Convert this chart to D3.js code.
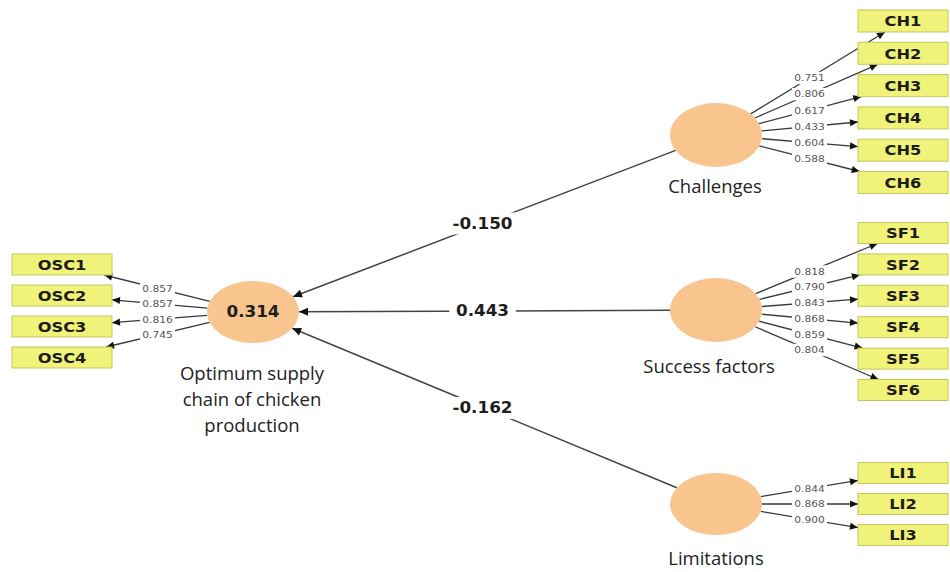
<!DOCTYPE html>
<html>
<head>
<meta charset="utf-8">
<script src="https://cdn.jsdelivr.net/npm/d3@7"></script>
<style>
html,body{margin:0;padding:0;background:#fff;}
svg{display:block;}
</style>
</head>
<body>
<svg id="chart" width="950" height="572"></svg>
<script>
// ---------------- DATA ----------------
const constructs = ["Optimum supply chain of chicken production", "Challenges", "Success factors", "Limitations"];
const constructLabelLines = [["Optimum supply", "chain of chicken", "production"], ["Challenges"], ["Success factors"], ["Limitations"]];
const rSquared = [0.314, null, null, null];
const pathSources = ["Challenges", "Success factors", "Limitations"];
const pathTarget = "Optimum supply chain of chicken production";
const pathCoefficients = [-0.150, 0.443, -0.162];

const oscItems = ["OSC1", "OSC2", "OSC3", "OSC4"];
const oscLoadings = [0.857, 0.857, 0.816, 0.745];
const chItems = ["CH1", "CH2", "CH3", "CH4", "CH5", "CH6"];
const chLoadings = [0.751, 0.806, 0.617, 0.433, 0.604, 0.588];
const sfItems = ["SF1", "SF2", "SF3", "SF4", "SF5", "SF6"];
const sfLoadings = [0.818, 0.790, 0.843, 0.868, 0.859, 0.804];
const liItems = ["LI1", "LI2", "LI3"];
const liLoadings = [0.844, 0.868, 0.900];

// ---------------- LAYOUT ----------------
const svg = d3.select("#chart");

const ELL_FILL = "#f8c58f";
const BOX_FILL = "#f0f27a";
const BOX_STROKE = "#c4c85c";
const SX = 1.12; // horizontal text stretch

const xConstruct = d3.scalePoint().domain(["left", "right"]).range([253, 716]);
const yRight = d3.scaleOrdinal().domain(["Challenges", "Success factors", "Limitations"]).range([135, 310, 504]);
const constructPos = {
  [constructs[0]]: {x: xConstruct("left"), y: 312, rx: 46, ry: 31, labelY: [380, 406, 432], labelX: 252},
  [constructs[1]]: {x: xConstruct("right"), y: yRight("Challenges"), rx: 46, ry: 32, labelY: [193], labelX: 715},
  [constructs[2]]: {x: xConstruct("right"), y: yRight("Success factors"), rx: 46, ry: 32, labelY: [373], labelX: 709},
  [constructs[3]]: {x: xConstruct("right"), y: yRight("Limitations"), rx: 46, ry: 31, labelY: [565], labelX: 716}
};

const blocks = [
  {construct: constructs[0], items: oscItems, loads: oscLoadings, x0: 12, w: 100, h: 21,
   y: d3.scaleLinear().domain([0, oscItems.length - 1]).range([264.5, 357.5])},
  {construct: constructs[1], items: chItems, loads: chLoadings, x0: 858, w: 90, h: 22,
   y: d3.scaleLinear().domain([0, chItems.length - 1]).range([21, 182.5])},
  {construct: constructs[2], items: sfItems, loads: sfLoadings, x0: 858, w: 90, h: 21,
   y: d3.scaleLinear().domain([0, sfItems.length - 1]).range([233, 390])},
  {construct: constructs[3], items: liItems, loads: liLoadings, x0: 858, w: 90, h: 21,
   y: d3.scaleLinear().domain([0, liItems.length - 1]).range([473, 535])}
];

const defs = svg.append("defs");
defs.append("marker").attr("id", "arrBig")
  .attr("viewBox", "0 -5 10 10").attr("refX", 10).attr("refY", 0)
  .attr("markerUnits", "userSpaceOnUse").attr("markerWidth", 11).attr("markerHeight", 9)
  .attr("orient", "auto")
  .append("path").attr("d", "M0,-4.5L10,0L0,4.5Z").attr("fill", "#111");
defs.append("marker").attr("id", "arrSmall")
  .attr("viewBox", "0 -5 10 10").attr("refX", 10).attr("refY", 0)
  .attr("markerUnits", "userSpaceOnUse").attr("markerWidth", 10).attr("markerHeight", 8)
  .attr("orient", "auto")
  .append("path").attr("d", "M0,-4.5L10,0L0,4.5Z").attr("fill", "#111");

function ellipseEdge(c, tx, ty) {
  const dx = tx - c.x, dy = ty - c.y;
  const t = 1 / Math.sqrt((dx / c.rx) ** 2 + (dy / c.ry) ** 2);
  return [c.x + dx * t, c.y + dy * t];
}
function rectEdge(cx, cy, hw, hh, fx, fy) {
  const dx = cx - fx, dy = cy - fy;
  const t = Math.min(dx === 0 ? Infinity : hw / Math.abs(dx), dy === 0 ? Infinity : hh / Math.abs(dy));
  return [cx - dx * t, cy - dy * t];
}

function labelWithBg(parent, x, y, text, opts) {
  const g = parent.append("g").attr("transform", `translate(${x},${y}) scale(${opts.sx || 1},1)`);
  const rect = g.append("rect").attr("fill", "#fff");
  const t = g.append("text")
    .attr("text-anchor", "middle")
    .attr("dominant-baseline", "central")
    .attr("font-family", opts.family || "DejaVu Sans")
    .attr("font-size", opts.size)
    .attr("font-weight", opts.weight || "normal")
    .attr("fill", opts.color || "#222")
    .text(text);
  const bb = t.node().getBBox();
  const px = opts.padX || 2, py = opts.padY || 1;
  rect.attr("x", bb.x - px).attr("y", bb.y - py).attr("width", bb.width + 2 * px).attr("height", bb.height + 2 * py);
  return g;
}

const linkLayer = svg.append("g");
const labelLayer = svg.append("g");
const nodeLayer = svg.append("g");

pathSources.forEach((src, i) => {
  const s = constructPos[src], t = constructPos[pathTarget];
  const p0 = ellipseEdge(s, t.x, t.y);
  const p1 = ellipseEdge(t, s.x, s.y);
  linkLayer.append("line")
    .attr("x1", p0[0]).attr("y1", p0[1]).attr("x2", p1[0]).attr("y2", p1[1])
    .attr("stroke", "#444").attr("stroke-width", 1.5)
    .attr("marker-end", "url(#arrBig)");
  const mx = (s.x + t.x) / 2, my = (s.y + t.y) / 2;
  labelWithBg(labelLayer, mx - 2, my, d3.format(".3f")(pathCoefficients[i]).replace("−", "-"),
    {size: 15, weight: "bold", sx: SX, color: "#1e1e1e", padX: 6, padY: 2});
});

blocks.forEach(b => {
  const c = constructPos[b.construct];
  b.items.forEach((item, i) => {
    const cx = b.x0 + b.w / 2, cy = b.y(i);
    const p0 = ellipseEdge(c, cx, cy);
    const p1 = rectEdge(cx, cy, b.w / 2, b.h / 2, c.x, c.y);
    linkLayer.append("line")
      .attr("x1", p0[0]).attr("y1", p0[1]).attr("x2", p1[0]).attr("y2", p1[1])
      .attr("stroke", "#3a3a3a").attr("stroke-width", 1.3)
      .attr("marker-end", "url(#arrSmall)");
    const lx = c.x + (cx - c.x) * 0.5, ly = c.y + (cy - c.y) * 0.5;
    labelWithBg(labelLayer, lx, ly, d3.format(".3f")(b.loads[i]),
      {size: 9.5, sx: 1.12, color: "#555", padX: 2, padY: 0});
    nodeLayer.append("rect")
      .attr("x", b.x0).attr("y", cy - b.h / 2).attr("width", b.w).attr("height", b.h)
      .attr("fill", BOX_FILL).attr("stroke", BOX_STROKE).attr("stroke-width", 1);
    nodeLayer.append("text")
      .attr("transform", `translate(${cx},${cy + 0.5}) scale(${SX},1)`)
      .attr("text-anchor", "middle").attr("dominant-baseline", "central")
      .attr("font-family", "DejaVu Sans").attr("font-weight", "bold").attr("font-size", 14.5)
      .attr("fill", "#1c1c1c")
      .text(item);
  });
});

constructs.forEach((name, i) => {
  const c = constructPos[name];
  nodeLayer.append("ellipse")
    .attr("cx", c.x).attr("cy", c.y).attr("rx", c.rx).attr("ry", c.ry)
    .attr("fill", ELL_FILL);
  if (rSquared[i] !== null) {
    nodeLayer.append("text")
      .attr("transform", `translate(${c.x},${c.y}) scale(${SX},1)`)
      .attr("text-anchor", "middle").attr("dominant-baseline", "central")
      .attr("font-family", "DejaVu Sans").attr("font-weight", "bold").attr("font-size", 15)
      .attr("fill", "#1e1e1e")
      .text(d3.format(".3f")(rSquared[i]));
  }
  constructLabelLines[i].forEach((line, j) => {
    nodeLayer.append("text")
      .attr("x", c.labelX).attr("y", c.labelY[j])
      .attr("text-anchor", "middle")
      .attr("font-family", "Open Sans").attr("font-size", 18.5)
      .attr("fill", "#222")
      .text(line);
  });
});
</script>
</body>
</html>
